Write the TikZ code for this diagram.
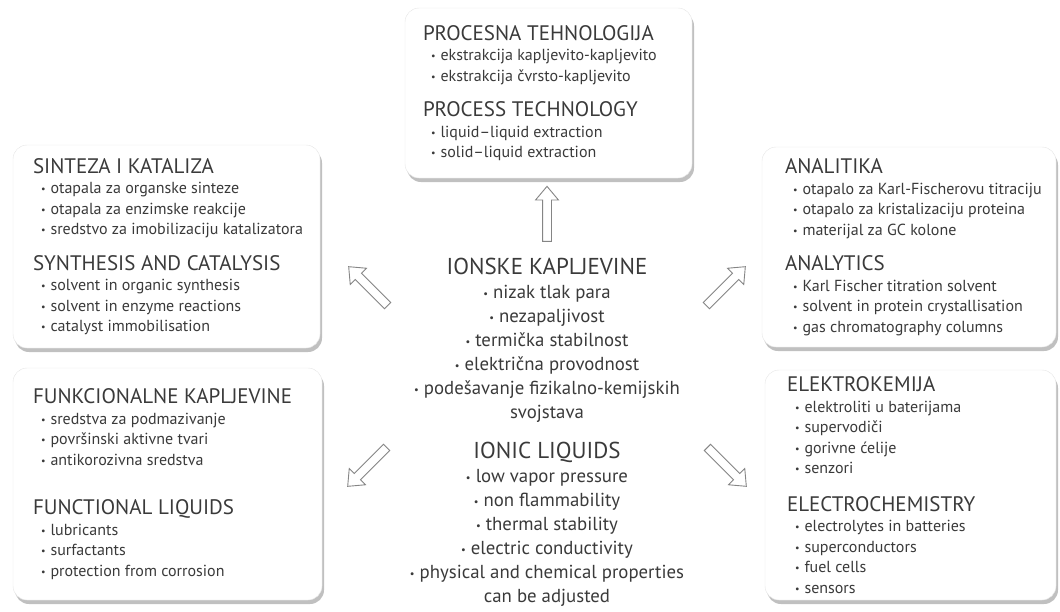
\documentclass[tikz,border=0pt]{standalone}
\usepackage{fontspec}
\setmainfont{PT Sans}
\usepackage{tikz}
\usetikzlibrary{positioning, calc, shapes.arrows, shadows}
\definecolor{ink}{HTML}{3A3A3A}
\definecolor{rim}{HTML}{858585}
\tikzstyle{Panel} = [
    rectangle,
    rounded corners = 14pt,
    draw = black!10,
    fill = white,
    drop shadow = {shadow xshift = 2pt, shadow yshift = -4pt, opacity = 0.45, fill = black!55}
]
\tikzstyle{Hollow} = [
    single arrow,
    draw = rim,
    fill = white,
    line width = 0.9pt,
    text height = 4pt,
    text depth = 4pt,
    inner sep = 0pt,
    minimum width = 22pt,
    minimum height = 55pt,
    single arrow head extend = 7pt,
    single arrow tip angle = 80
]
\newcommand{\hd}[1]{{\fontsize{21}{20.5}\selectfont #1}}
\newcommand{\itm}[1]{\hspace*{8pt}\raisebox{1pt}{\fontsize{10}{10}\selectfont\textbullet}\hspace{5pt}#1}
\newcommand{\cb}{\raisebox{1pt}{\fontsize{10.5}{10.5}\selectfont\textbullet}\ }

\begin{document}
\begin{tikzpicture}[
x = 1pt, y = -1pt,
every node/.append style = {text = ink},
list/.style = {
    align = left,
    inner sep = 0pt,
    anchor = west,
    font = \fontsize{16}{20.5}\selectfont
    }
]
\useasboundingbox (0,0) rectangle (1060,611);

% panels
\node [Panel, minimum width = 287pt, minimum height = 170pt] (proc) at (548.5,93) {};
\node [Panel, minimum width = 307pt, minimum height = 203pt] (synth) at (166.5,246.5) {};
\node [Panel, minimum width = 294pt, minimum height = 200pt] (anal) at (909,247) {};
\node [Panel, minimum width = 309pt, minimum height = 232pt] (func) at (167.5,484) {};
\node [Panel, minimum width = 291pt, minimum height = 230pt] (elchem) at (910.5,485) {};

\node [list] (proc-list) at ([xshift = 18pt]proc.west) {
    \hd{PROCESNA TEHNOLOGIJA}\\
    \itm{ekstrakcija kapljevito-kapljevito}\\
    \itm{ekstrakcija čvrsto-kapljevito}\\[15pt]
    \hd{PROCESS TECHNOLOGY}\\
    \itm{liquid--liquid extraction}\\
    \itm{solid--liquid extraction}
};
\node [list] (synth-list) at ([xshift = 20pt]synth.west) {
    \hd{SINTEZA I KATALIZA}\\
    \itm{otapala za organske sinteze}\\
    \itm{otapala za enzimske reakcije}\\
    \itm{sredstvo za imobilizaciju katalizatora}\\[15pt]
    \hd{SYNTHESIS AND CATALYSIS}\\
    \itm{solvent in organic synthesis}\\
    \itm{solvent in enzyme reactions}\\
    \itm{catalyst immobilisation}
};
\node [list] (anal-list) at ([xshift = 23pt]anal.west) {
    \hd{ANALITIKA}\\
    \itm{otapalo za Karl-Fischerovu titraciju}\\
    \itm{otapalo za kristalizaciju proteina}\\
    \itm{materijal za GC kolone}\\[15pt]
    \hd{ANALYTICS}\\
    \itm{Karl Fischer titration solvent}\\
    \itm{solvent in protein crystallisation}\\
    \itm{gas chromatography columns}
};
\node [list] (func-list) at ([xshift = 20pt]func.west) {
    \hd{FUNKCIONALNE KAPLJEVINE}\\
    \itm{sredstva za podmazivanje}\\
    \itm{površinski aktivne tvari}\\
    \itm{antikorozivna sredstva}\\[29pt]
    \hd{FUNCTIONAL LIQUIDS}\\
    \itm{lubricants}\\
    \itm{surfactants}\\
    \itm{protection from corrosion}
};
\node [list] (elchem-list) at ([xshift = 22pt]elchem.west) {
    \hd{ELEKTROKEMIJA}\\
    \itm{elektroliti u baterijama}\\
    \itm{supervodiči}\\
    \itm{gorivne ćelije}\\
    \itm{senzori}\\[17pt]
    \hd{ELECTROCHEMISTRY}\\
    \itm{electrolytes in batteries}\\
    \itm{superconductors}\\
    \itm{fuel cells}\\
    \itm{sensors}
};

% centre
\node [align = center, inner sep = 0pt, font = \fontsize{18.8}{24}\selectfont] (ionic) at (547,432) {
    {\fontsize{23}{24}\selectfont IONSKE KAPLJEVINE}\\
    \cb nizak tlak para\\
    \cb nezapaljivost\\
    \cb termička stabilnost\\
    \cb električna provodnost\\
    \cb podešavanje fizikalno-kemijskih\\
    svojstava\\[16pt]
    {\fontsize{23}{24}\selectfont IONIC LIQUIDS}\\
    \cb low vapor pressure\\
    \cb non flammability\\
    \cb thermal stability\\
    \cb electric conductivity\\
    \cb physical and chemical properties\\
    can be adjusted
};

% arrows
\node [Hollow, rotate = 90] (a1) at (547,216.5) {};
\node [Hollow, rotate = 135] (a2) at (370,288) {};
\node [Hollow, rotate = 45] (a3) at (724,288) {};
\node [Hollow, rotate = 225] (a4) at (369,465) {};
\node [Hollow, rotate = -45] (a5) at (725,465) {};

\end{tikzpicture}
\end{document}
